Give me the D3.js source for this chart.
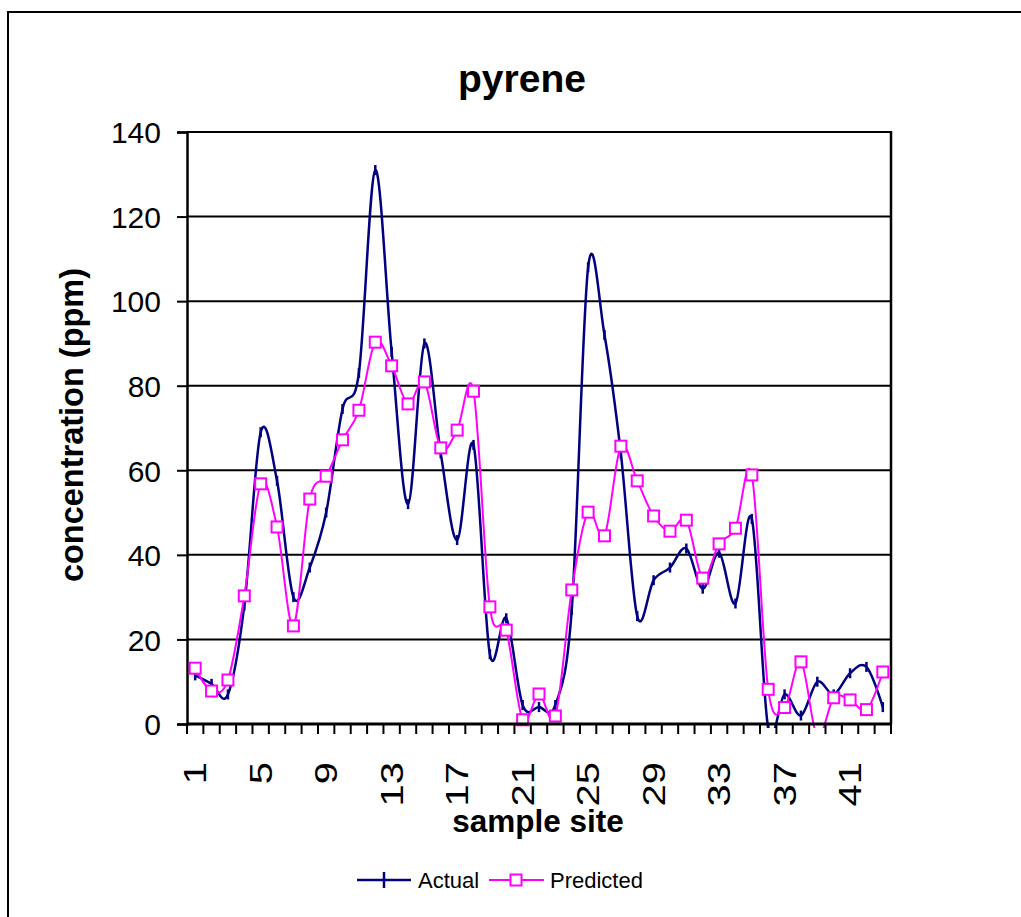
<!DOCTYPE html>
<html>
<head>
<meta charset="utf-8">
<script src="https://cdn.jsdelivr.net/npm/d3@7"></script>
<style>
  html, body { margin: 0; padding: 0; background: #fff; }
  svg { display: block; }
  text { font-family: Arial, "Liberation Sans", sans-serif; }
</style>
</head>
<body>
<svg id="chart" width="1021" height="917"></svg>
<script>
// ---- data ----
const sites = d3.range(1, 44);
const actual = [11.5, 9.5, 7, 28, 69, 57.5, 30, 37, 50, 74.5,
                83, 131, 88, 52, 90, 64, 43.5, 66, 16.5, 25,
                4.5, 4, 4.5, 27, 108, 92, 64, 25.5, 34, 37,
                41.5, 32, 40.5, 28.5, 48.5, -1, 7, 2, 10, 7,
                12, 13.5, 4];
const predicted = [13.2, 7.8, 10.4, 30.3, 56.8, 46.6, 23.2, 53.2, 58.6, 67.2,
                   74.2, 90.3, 84.7, 75.7, 80.9, 65.3, 69.5, 78.7, 27.7, 22.2,
                   1, 7.1, 1.9, 31.7, 50.1, 44.5, 65.7, 57.5, 49.2, 45.6,
                   48.2, 34.5, 42.6, 46.3, 58.9, 8.2, 3.9, 14.7, -3, 6.2,
                   5.7, 3.4, 12.3];
const yTicks = [0, 20, 40, 60, 80, 100, 120, 140];
const xTickLabels = [1, 5, 9, 13, 17, 21, 25, 29, 33, 37, 41];
const seriesNames = ["Actual", "Predicted"];
const titleText = "pyrene";
const xTitle = "sample site";
const yTitle = "concentration (ppm)";

// ---- layout ----
const svg = d3.select("#chart");
const L = 187, R = 891, T = 132, B = 724;
const navy = "#000080", magenta = "#FF00FF";

// outer frame
svg.append("rect").attr("x", 8).attr("y", 12).attr("width", 1100).attr("height", 1000)
  .attr("fill", "none").attr("stroke", "#000").attr("stroke-width", 2);

svg.append("clipPath").attr("id", "plotclip").append("rect")
  .attr("x", L - 2).attr("y", T - 6).attr("width", R - L + 4).attr("height", B - T + 10);

const x = d3.scaleBand().domain(sites).range([L, R]).padding(0);
const xc = d => x(d) + x.bandwidth() / 2;
const y = d3.scaleLinear().domain([0, 140]).range([B, T]);

// gridlines
svg.append("g").selectAll("line").data(yTicks.filter(v => v > 0)).join("line")
  .attr("x1", L).attr("x2", R).attr("y1", d => y(d)).attr("y2", d => y(d))
  .attr("stroke", "#000").attr("stroke-width", 2);

// right border
svg.append("line").attr("x1", R).attr("x2", R).attr("y1", T - 1).attr("y2", B)
  .attr("stroke", "#000").attr("stroke-width", 2.5);

// y axis
const yAxis = d3.axisLeft(y).tickValues(yTicks).tickSize(10).tickPadding(16).tickFormat(d3.format("d"));
const gy = svg.append("g").attr("transform", `translate(${L},0)`).call(yAxis);
gy.select(".domain").attr("stroke", "#000").attr("stroke-width", 2.5);
gy.selectAll(".tick line").attr("stroke", "#000").attr("stroke-width", 2);
gy.selectAll(".tick text").attr("font-size", 30).attr("fill", "#000")
  .attr("font-family", "Arial, 'Liberation Sans', sans-serif").attr("dy", "0.36em");

// lines (clipped to plot area)
const curve = d3.curveCardinal.tension(0);
const line = d3.line().x((d, i) => xc(sites[i])).y(d => y(d)).curve(curve);

const plot = svg.append("g").attr("clip-path", "url(#plotclip)");
plot.append("path").datum(actual).attr("d", line)
  .attr("fill", "none").attr("stroke", navy).attr("stroke-width", 2.5);
plot.selectAll("line.am").data(actual).join("line").attr("class", "am")
  .attr("x1", (d, i) => xc(sites[i])).attr("x2", (d, i) => xc(sites[i]))
  .attr("y1", d => y(d) - 5).attr("y2", d => y(d) + 5)
  .attr("stroke", navy).attr("stroke-width", 2.5);

plot.append("path").datum(predicted).attr("d", line)
  .attr("fill", "none").attr("stroke", magenta).attr("stroke-width", 2);
plot.selectAll("rect.pm").data(predicted).join("rect").attr("class", "pm")
  .attr("x", (d, i) => xc(sites[i]) - 5.5).attr("y", d => y(d) - 5.5)
  .attr("width", 11).attr("height", 11)
  .attr("fill", "#fff").attr("stroke", magenta).attr("stroke-width", 2)
  .attr("visibility", d => d < 0 ? "hidden" : "visible");

// x axis: ticks at band boundaries
const boundaries = sites.map(s => x(s)).concat([R]);
const gx = svg.append("g");
gx.selectAll("line.tk").data(boundaries).join("line").attr("class", "tk")
  .attr("x1", d => d).attr("x2", d => d).attr("y1", B).attr("y2", B + 10)
  .attr("stroke", "#000").attr("stroke-width", 2);
gx.append("line").attr("x1", L).attr("x2", R + 1).attr("y1", B).attr("y2", B)
  .attr("stroke", "#000").attr("stroke-width", 3);
gx.selectAll("text").data(xTickLabels).join("text")
  .attr("transform", d => `translate(${xc(d)},${B + 38}) rotate(-90) scale(1.25,1)`)
  .attr("text-anchor", "end").attr("dominant-baseline", "central")
  .attr("font-size", 32).attr("fill", "#000").text(d => d);

// titles
svg.append("text").attr("x", 522).attr("y", 92).attr("text-anchor", "middle")
  .attr("font-size", 39).attr("font-weight", "bold").text(titleText);
svg.append("text").attr("x", 538).attr("y", 832).attr("text-anchor", "middle")
  .attr("font-size", 31.5).attr("font-weight", "bold").text(xTitle);
svg.append("text").attr("transform", `translate(83,425) rotate(-90)`).attr("text-anchor", "middle")
  .attr("font-size", 32.5).attr("font-weight", "bold").text(yTitle);

// legend
const lg = svg.append("g");
const ly = 880;
lg.append("line").attr("x1", 357).attr("x2", 411).attr("y1", ly).attr("y2", ly)
  .attr("stroke", navy).attr("stroke-width", 2.5);
lg.append("line").attr("x1", 384).attr("x2", 384).attr("y1", ly - 8).attr("y2", ly + 8)
  .attr("stroke", navy).attr("stroke-width", 2.5);
lg.append("text").attr("x", 418).attr("y", ly).attr("dy", "0.36em")
  .attr("font-size", 22).text(seriesNames[0]);
lg.append("line").attr("x1", 489).attr("x2", 544).attr("y1", ly).attr("y2", ly)
  .attr("stroke", magenta).attr("stroke-width", 2);
lg.append("rect").attr("x", 516 - 5.5).attr("y", ly - 5.5).attr("width", 11).attr("height", 11)
  .attr("fill", "#fff").attr("stroke", magenta).attr("stroke-width", 2);
lg.append("text").attr("x", 550).attr("y", ly).attr("dy", "0.36em")
  .attr("font-size", 22).text(seriesNames[1]);
</script>
</body>
</html>
